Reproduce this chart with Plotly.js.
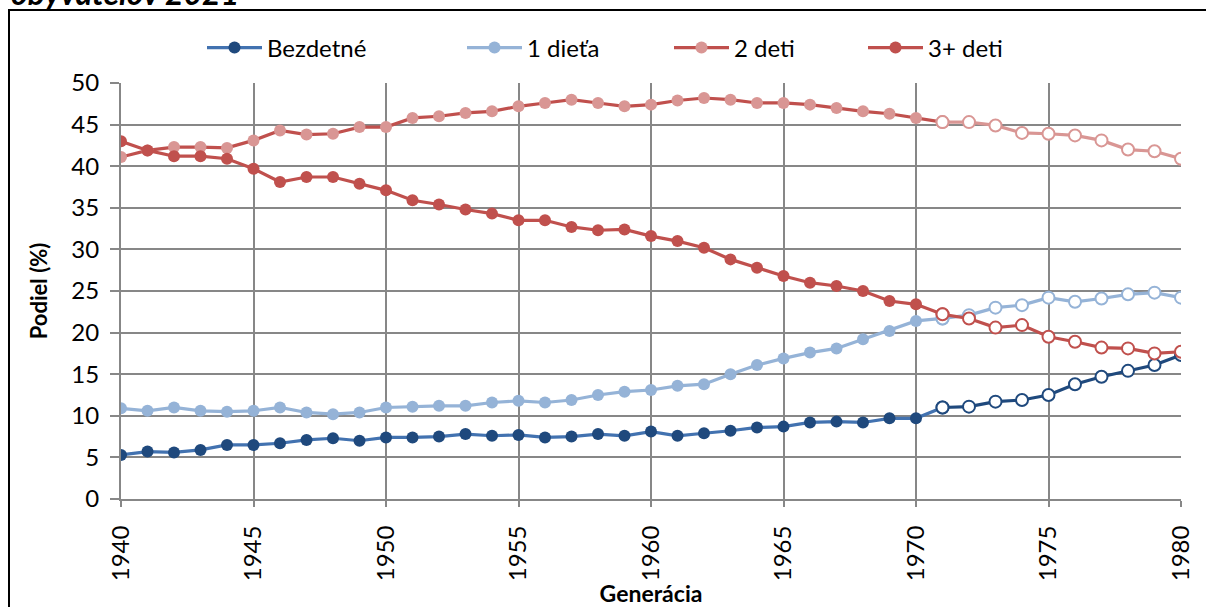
<!DOCTYPE html>
<html>
<head>
<meta charset="utf-8">
<script src="https://cdn.plot.ly/plotly-3.0.1.min.js"></script>
<style>html,body{margin:0;padding:0;background:#fff;}#chart{width:1206px;height:607px;}</style>
</head>
<body>
<div id="chart"></div>
<script>
// Generácia (birth cohort)
const years = [1940,1941,1942,1943,1944,1945,1946,1947,1948,1949,1950,
  1951,1952,1953,1954,1955,1956,1957,1958,1959,1960,
  1961,1962,1963,1964,1965,1966,1967,1968,1969,1970,
  1971,1972,1973,1974,1975,1976,1977,1978,1979,1980];
const firstOpenYear = 1971;

const seriesNames = ["Bezdetné", "1 dieťa", "2 deti", "3+ deti"];

const bezdetne = [5.3,5.7,5.6,5.9,6.5,6.5,6.7,7.1,7.3,7.0,7.4,
  7.4,7.5,7.8,7.6,7.7,7.4,7.5,7.8,7.6,8.1,
  7.6,7.9,8.2,8.6,8.7,9.2,9.3,9.2,9.7,9.7,
  11.0,11.1,11.7,11.9,12.5,13.8,14.7,15.4,16.1,17.3];
const jednoDieta = [10.9,10.6,11.0,10.6,10.5,10.6,11.0,10.4,10.2,10.4,11.0,
  11.1,11.2,11.2,11.6,11.8,11.6,11.9,12.5,12.9,13.1,
  13.6,13.8,15.0,16.1,16.9,17.6,18.1,19.2,20.2,21.4,
  21.7,22.1,23.0,23.3,24.2,23.7,24.1,24.6,24.8,24.2];
const dveDeti = [41.1,41.9,42.3,42.3,42.2,43.1,44.3,43.8,43.9,44.7,44.7,
  45.8,46.0,46.4,46.6,47.2,47.6,48.0,47.6,47.2,47.4,
  47.9,48.2,48.0,47.6,47.6,47.4,47.0,46.6,46.3,45.8,
  45.3,45.3,44.9,44.0,43.9,43.7,43.1,42.0,41.8,40.9];
const triDeti = [43.0,41.9,41.2,41.2,40.9,39.7,38.1,38.7,38.7,37.9,37.1,
  35.9,35.4,34.8,34.3,33.5,33.5,32.7,32.3,32.4,31.6,
  31.0,30.2,28.8,27.8,26.8,26.0,25.6,25.0,23.8,23.4,
  22.2,21.7,20.6,20.9,19.5,18.9,18.2,18.1,17.5,17.7];

const yTicks = [0,5,10,15,20,25,30,35,40,45,50];
const xTicks = [1940,1945,1950,1955,1960,1965,1970,1975,1980];

const styles = [
  {marker:"#1F497D", line:"#4272B0", lineOpen:"#1F497D"},
  {marker:"#95B3D7", line:"#95B3D7", lineOpen:"#95B3D7"},
  {marker:"#D99694", line:"#C0504D", lineOpen:"#D99694"},
  {marker:"#C0504D", line:"#C0504D", lineOpen:"#C0504D"}
];
const values = [bezdetne, jednoDieta, dveDeti, triDeti];
const legendIds = ["legend", "legend2", "legend3", "legend4"];

const cut = years.indexOf(firstOpenYear);
const hist = [], proj = [];
values.forEach((vals, i) => {
  const st = styles[i];
  const xs = years.slice(0, cut + 1);
  const ys = vals.slice(0, cut + 1);
  hist.push({
    x: xs, y: ys, type: "scatter", mode: "lines+markers", name: seriesNames[i],
    legend: legendIds[i],
    line: {color: st.line, width: 3.2},
    marker: {size: 12, color: xs.map(y => y >= firstOpenYear ? "#FFFFFF" : st.marker),
      line: {color: st.marker, width: xs.map(y => y >= firstOpenYear ? 2 : 0)}},
    hoverinfo: "x+y"
  });
  proj.push({
    x: years.slice(cut), y: vals.slice(cut), type: "scatter", mode: "lines+markers",
    name: seriesNames[i], showlegend: false,
    line: {color: st.lineOpen, width: 3.2},
    marker: {size: 12, color: "#FFFFFF", line: {color: st.marker, width: 2}},
    hoverinfo: "x+y"
  });
});
const ordered = hist.concat(proj);

const F = "Lato, 'Open Sans', sans-serif";
const legendStarts = [202, 462, 669, 863];
const layout = {
  width: 1206, height: 607,
  margin: {l: 121, r: 25, t: 83, b: 108, pad: 0, autoexpand: false},
  paper_bgcolor: "#FFFFFF", plot_bgcolor: "#FFFFFF",
  font: {family: F, size: 24, color: "#000000"},
  showlegend: true,
  xaxis: {
    range: [1940, 1980], tickvals: xTicks, ticktext: xTicks.map(String), tickangle: -90,
    showgrid: true, gridcolor: "#878787", gridwidth: 2,
    showline: true, linecolor: "#878787", linewidth: 2, automargin: true,
    ticks: "outside", ticklen: 6, tickwidth: 2, tickcolor: "#878787", ticklabelstandoff: 9,
    tickfont: {family: F, size: 24, color: "#000"}, zeroline: false,
    title: {text: "Generácia", font: {family: F, size: 23, color: "#000", weight: "bold"}, standoff: 10},
    fixedrange: true
  },
  yaxis: {
    range: [0, 50], tickvals: yTicks, ticktext: yTicks.map(String),
    showgrid: true, gridcolor: "#878787", gridwidth: 2,
    showline: true, linecolor: "#878787", linewidth: 2,
    ticks: "outside", ticklen: 9, tickwidth: 2, tickcolor: "#878787", ticklabelstandoff: 6,
    tickfont: {family: F, size: 24, color: "#000"}, zeroline: false,
    title: {text: "Podiel (%)", font: {family: F, size: 22, color: "#000", weight: "bold"}, standoff: 18},
    fixedrange: true
  },
  shapes: [{type: "rect", xref: "paper", yref: "paper",
    x0: (9-121)/1060, x1: 1.2, y0: -0.5, y1: (499-10)/416,
    line: {color: "#000", width: 2}, fillcolor: "rgba(0,0,0,0)", layer: "below"}],
  annotations: [{text: "obyvateľov 2021", xref: "paper", yref: "paper",
    x: (9-121)/1060, xanchor: "left", y: (499-14)/416, yanchor: "bottom", showarrow: false,
    font: {family: F, size: 32, color: "#000", weight: "bold", style: "italic"}}]
};
legendIds.forEach((id, i) => {
  layout[id] = {orientation: "h", x: (legendStarts[i]-121)/1060, xanchor: "left",
    y: (499-48)/416, yanchor: "middle", itemwidth: 55,
    font: {family: F, size: 24, color: "#000"}, bgcolor: "rgba(0,0,0,0)"};
});
Plotly.newPlot("chart", ordered, layout, {displayModeBar: false, staticPlot: true});
</script>
</body>
</html>
